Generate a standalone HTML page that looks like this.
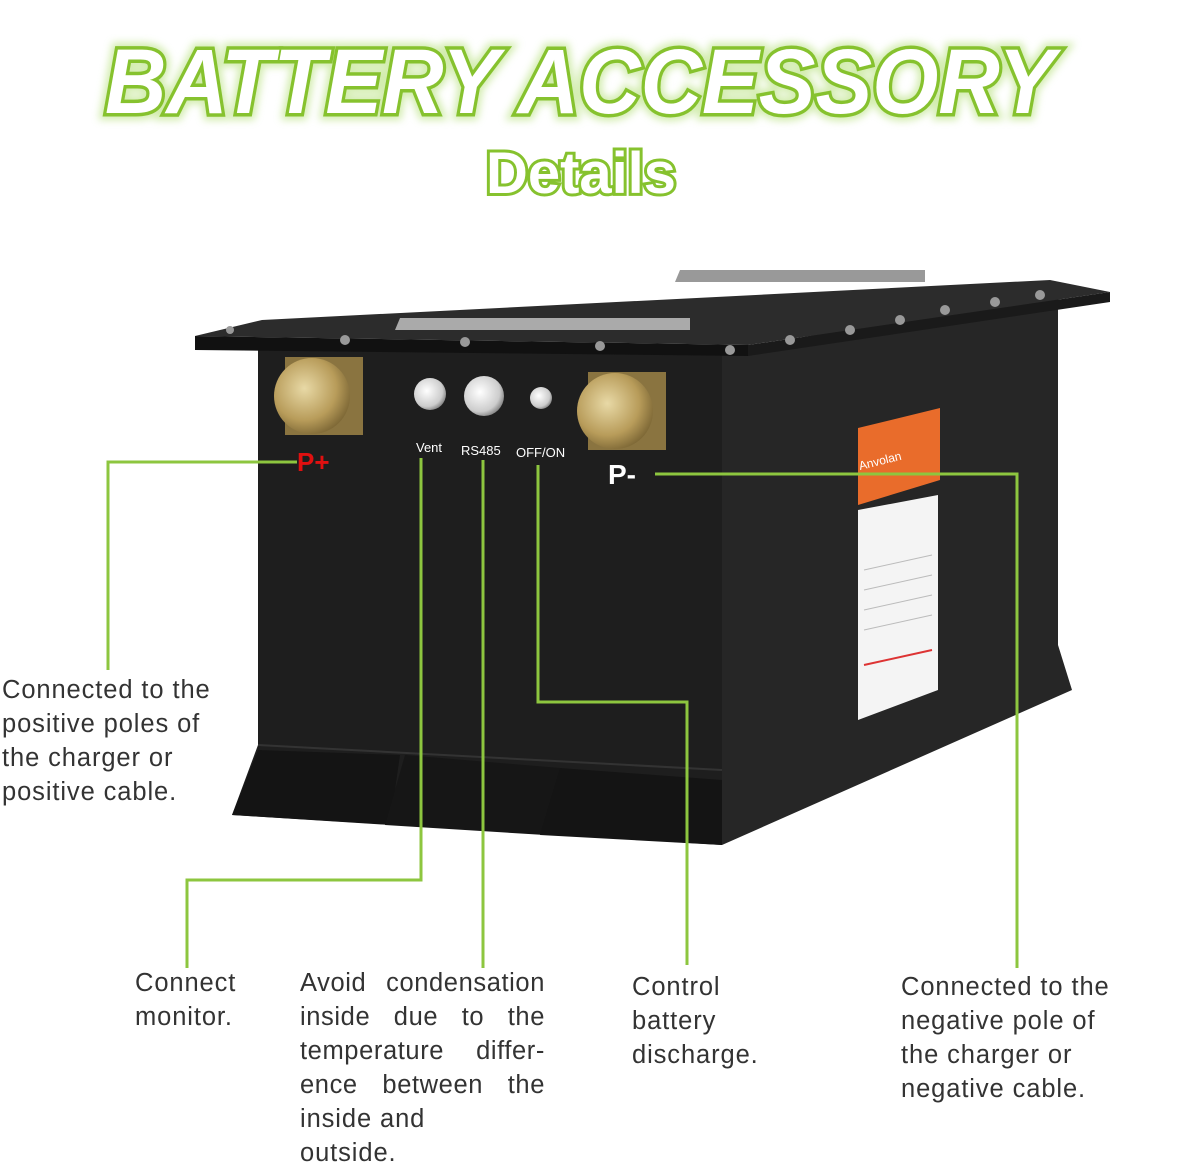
<!DOCTYPE html>
<html><head><meta charset="utf-8"><style>
html,body{margin:0;padding:0;background:#fff;}
body{width:1200px;height:1163px;overflow:hidden;position:relative;font-family:"Liberation Sans",sans-serif;}
.t{position:absolute;font-size:25.5px;line-height:34px;color:#333;letter-spacing:0.9px;}
</style></head><body>
<svg width="1200" height="1163" style="position:absolute;left:0;top:0">
<defs>
<filter id="gl" x="-10%" y="-30%" width="120%" height="160%"><feGaussianBlur stdDeviation="4"/></filter>
<radialGradient id="gold" cx="40%" cy="40%" r="70%"><stop offset="0" stop-color="#e8d9a6"/><stop offset="0.6" stop-color="#b89c5a"/><stop offset="1" stop-color="#6e5a2c"/></radialGradient>
<radialGradient id="sil" cx="40%" cy="40%" r="70%"><stop offset="0" stop-color="#fff"/><stop offset="0.7" stop-color="#ccc"/><stop offset="1" stop-color="#666"/></radialGradient>
</defs>
<g font-family="Liberation Sans,sans-serif" font-weight="bold">
<text x="580" y="113" text-anchor="middle" font-size="92" font-style="italic" textLength="950" lengthAdjust="spacingAndGlyphs" fill="#b5e07a" stroke="#b5e07a" stroke-width="14" filter="url(#gl)" opacity="0.6">BATTERY ACCESSORY</text>
<text x="580" y="113" text-anchor="middle" font-size="92" font-style="italic" textLength="950" lengthAdjust="spacingAndGlyphs" fill="#fff" stroke="#86c22e" stroke-width="7" paint-order="stroke">BATTERY ACCESSORY</text>
<text x="581" y="193" text-anchor="middle" font-size="58" textLength="190" lengthAdjust="spacingAndGlyphs" fill="#fff" stroke="#86c22e" stroke-width="6" paint-order="stroke">Details</text>
</g>
<polygon points="722,352 1058,290 1058,645 1072,690 722,845" fill="#262626"/>
<polygon points="258,345 722,352 722,845 232,815 258,745" fill="#1e1e1e"/>
<polygon points="232,815 258,750 400,755 390,825" fill="#141414"/>
<polygon points="385,825 405,755 560,768 545,835" fill="#161616"/>
<polygon points="540,835 560,768 722,780 722,845" fill="#141414"/>
<line x1="258" y1="745" x2="722" y2="770" stroke="#333" stroke-width="2"/>
<polygon points="262,320 1050,280 1110,292 748,345 195,336" fill="#2c2c2c"/>
<polygon points="195,336 748,345 748,356 195,350" fill="#111"/>
<polygon points="748,345 1110,292 1110,302 748,356" fill="#1a1a1a"/>
<polygon points="395,330 400,318 690,318 690,330" fill="#aaa"/>
<polygon points="675,282 680,270 925,270 925,282" fill="#999"/>
<g fill="#999">
<circle cx="345" cy="340" r="5"/><circle cx="465" cy="342" r="5"/><circle cx="600" cy="346" r="5"/><circle cx="730" cy="350" r="5"/>
<circle cx="790" cy="340" r="5"/><circle cx="850" cy="330" r="5"/><circle cx="900" cy="320" r="5"/><circle cx="945" cy="310" r="5"/><circle cx="995" cy="302" r="5"/><circle cx="1040" cy="295" r="5"/><circle cx="230" cy="330" r="4"/>
</g>
<rect x="285" y="357" width="78" height="78" fill="#8a7440"/>
<circle cx="312" cy="396" r="38" fill="url(#gold)"/>
<rect x="588" y="372" width="78" height="78" fill="#8a7440"/>
<circle cx="615" cy="411" r="38" fill="url(#gold)"/>
<circle cx="430" cy="394" r="16" fill="url(#sil)"/>
<circle cx="484" cy="396" r="20" fill="url(#sil)"/>
<circle cx="541" cy="398" r="11" fill="url(#sil)"/>
<g font-family="Liberation Sans,sans-serif">
<text x="297" y="471" font-size="26" font-weight="bold" fill="#e01010">P+</text>
<text x="608" y="484" font-size="28" font-weight="bold" fill="#fff">P-</text>
<text x="416" y="452" font-size="13" fill="#fff">Vent</text>
<text x="461" y="455" font-size="13" fill="#fff">RS485</text>
<text x="516" y="457" font-size="13" fill="#fff">OFF/ON</text>
</g>
<polygon points="858,428 940,408 940,480 858,505" fill="#e96c2b"/>
<text x="860" y="470" font-size="12" fill="#fff" font-family="Liberation Sans,sans-serif" transform="rotate(-14 860 470)">Anvolan</text>
<polygon points="858,510 938,495 938,690 858,720" fill="#f4f4f4"/>
<g stroke="#bbb" stroke-width="1"><line x1="864" y1="570" x2="932" y2="555"/><line x1="864" y1="590" x2="932" y2="575"/><line x1="864" y1="610" x2="932" y2="595"/><line x1="864" y1="630" x2="932" y2="615"/></g>
<line x1="864" y1="665" x2="932" y2="650" stroke="#d33" stroke-width="2"/>
<g stroke="#8dc63f" stroke-width="3" fill="none">
<polyline points="297,462 108,462 108,670"/>
<polyline points="421,458 421,880 187,880 187,968"/>
<polyline points="483,460 483,968"/>
<polyline points="538,465 538,702 687,702 687,965"/>
<polyline points="655,474 1017,474 1017,968"/>
</g>
</svg>
<div class="t" style="left:2px;top:673px;width:240px">Connected to the<br>positive poles of<br>the charger or<br>positive cable.</div>
<div class="t" style="left:135px;top:966px">Connect<br>monitor.</div>
<div class="t" style="left:300px;top:966px;width:245px;text-align:justify;text-align-last:justify;letter-spacing:0.6px">Avoid condensation inside due to the temperature differ-ence between the</div>
<div class="t" style="left:300px;top:1102px">inside and<br>outside.</div>
<div class="t" style="left:632px;top:970px">Control<br>battery<br>discharge.</div>
<div class="t" style="left:901px;top:970px">Connected to the<br>negative pole of<br>the charger or<br>negative cable.</div>
</body></html>
